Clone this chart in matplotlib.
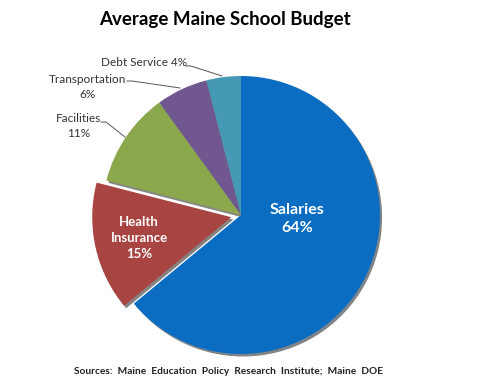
import matplotlib.pyplot as plt

categories = ['Salaries', 'Health\nInsurance', 'Facilities', 'Transportation', 'Debt Service']
shares = [64, 15, 11, 6, 4]
colors = ['#0A6DC2', '#A84442', '#8BA84D', '#70578F', '#4699B4']
explode = [0, 10, 0, 0, 0]  # offset in pixel units

plt.rcParams['font.family'] = ['Lato', 'DejaVu Sans']

fig = plt.figure(figsize=(4.81, 3.84), dpi=100)
ax = fig.add_axes([0, 0, 1, 1])

# pie centre/radius in pixel units
cx, cy, r = 241, 384 - 215, 139
wedges, _ = ax.pie(shares, colors=colors, explode=explode, startangle=90,
                   counterclock=False, center=(cx, cy), radius=r,
                   shadow={'ox': 1.5, 'oy': -1.8, 'shade': 0.9},
                   wedgeprops={'linewidth': 0})
ax.set_xlim(0, 481)
ax.set_ylim(0, 384)
ax.set_aspect('equal')
ax.axis('off')

ax.text(225, 384 - 20, 'Average Maine School Budget', ha='center', va='center',
        fontsize=13.5, fontweight='bold')

# inside labels
ax.text(297, 384 - 219, 'Salaries\n%d%%' % shares[0], ha='center', va='center',
        color='white', fontsize=11.5, fontweight='bold', linespacing=1.35)
ax.text(139, 384 - 238, '%s\n%d%%' % (categories[1], shares[1]), ha='center',
        va='center', color='white', fontsize=9.5, fontweight='bold', linespacing=1.4)

# outside labels with leader lines
ax.text(79, 384 - 126, '%s\n%d%%' % (categories[2], shares[2]), ha='center',
        va='center', fontsize=8.5, color='#333333', linespacing=1.35)
ax.plot([101, 106, 125], [384 - 122, 384 - 122, 384 - 137], color='#555555', lw=0.7)

ax.text(88, 384 - 87, '%s\n%d%%' % (categories[3], shares[3]), ha='center',
        va='center', fontsize=8.5, color='#333333', linespacing=1.35)
ax.plot([127, 132, 180], [384 - 81, 384 - 81, 384 - 88], color='#555555', lw=0.7)

ax.text(144, 384 - 62, '%s %d%%' % (categories[4], shares[4]), ha='center',
        va='center', fontsize=8.5, color='#333333')
ax.plot([186, 191, 222], [384 - 66, 384 - 66, 384 - 76], color='#555555', lw=0.7)

ax.text(229, 384 - 371, 'Sources:  Maine  Education  Policy  Research  Institute;  Maine  DOE',
        ha='center', va='center', fontsize=7.3, fontweight='bold', color='#222222')

fig.savefig('out.png', dpi=100)
